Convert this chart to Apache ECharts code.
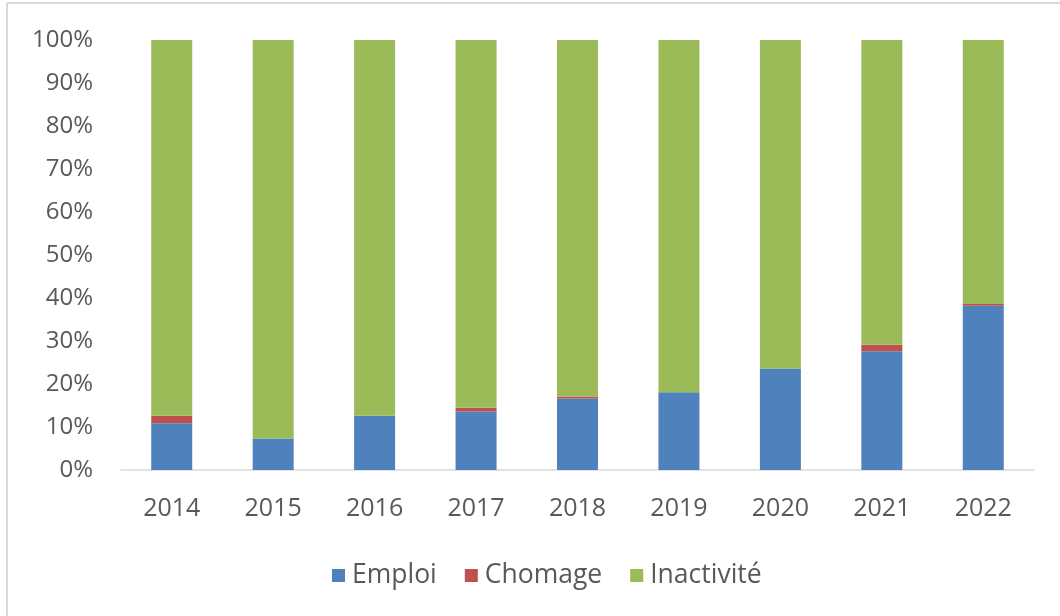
<!DOCTYPE html>
<html>
<head>
<meta charset="utf-8">
<script src="https://cdn.jsdelivr.net/npm/echarts@6/dist/echarts.min.js"></script>
<style>
  html, body { margin: 0; padding: 0; background: #fff; }
  #chart { width: 1060px; height: 616px; }
</style>
</head>
<body>
<div id="chart"></div>
<script>
var years = ['2014', '2015', '2016', '2017', '2018', '2019', '2020', '2021', '2022'];
var emploi = [10.9, 7.3, 12.6, 13.6, 16.6, 18.1, 23.6, 27.6, 38.2];
var chomage = [1.7, 0, 0, 0.9, 0.5, 0, 0, 1.5, 0.4];
var inactivite = [87.4, 92.7, 87.4, 85.5, 82.9, 81.9, 76.4, 70.9, 61.4];

var blue = '#4f81bd';
var red = '#c0504d';
var green = '#9bbb59';
var textCol = '#595959';
var font = '"Open Sans", "Noto Sans", sans-serif';

function barSeries(name, data, color) {
  return {
    name: name,
    type: 'bar',
    stack: 'total',
    data: data,
    barWidth: 41,
    itemStyle: { color: color },
    emphasis: { disabled: true }
  };
}

var chart = echarts.init(document.getElementById('chart'), null, { renderer: 'canvas' });
chart.setOption({
  animation: false,
  textStyle: { fontFamily: font },
  graphic: [
    { type: 'line', shape: { x1: 7, y1: 3, x2: 1060, y2: 3 }, style: { stroke: '#d9d9d9', lineWidth: 2 } },
    { type: 'line', shape: { x1: 7, y1: 3, x2: 7, y2: 616 }, style: { stroke: '#d9d9d9', lineWidth: 2 } }
  ],
  grid: { left: 121, right: 26, top: 40, bottom: 146 },
  legend: {
    data: ['Emploi', 'Chomage', 'Inactivité'],
    left: 327,
    top: 557,
    itemWidth: 13,
    itemHeight: 13,
    itemGap: 28,
    icon: 'rect',
    textStyle: { color: textCol, fontSize: 26.5, fontFamily: font, padding: [0, 0, 0, 2] }
  },
  xAxis: {
    type: 'category',
    data: years,
    axisLine: { lineStyle: { color: '#d9d9d9', width: 1.5 } },
    axisTick: { show: false },
    axisLabel: { color: textCol, fontSize: 25, margin: 26, fontFamily: font }
  },
  yAxis: {
    type: 'value',
    min: 0,
    max: 100,
    interval: 10,
    splitLine: { show: false },
    axisLine: { show: false },
    axisTick: { show: false },
    axisLabel: { color: textCol, fontSize: 24, margin: 28, fontFamily: font, formatter: '{value}%' }
  },
  series: [
    barSeries('Emploi', emploi, blue),
    barSeries('Chomage', chomage, red),
    barSeries('Inactivité', inactivite, green)
  ]
});
</script>
</body>
</html>
